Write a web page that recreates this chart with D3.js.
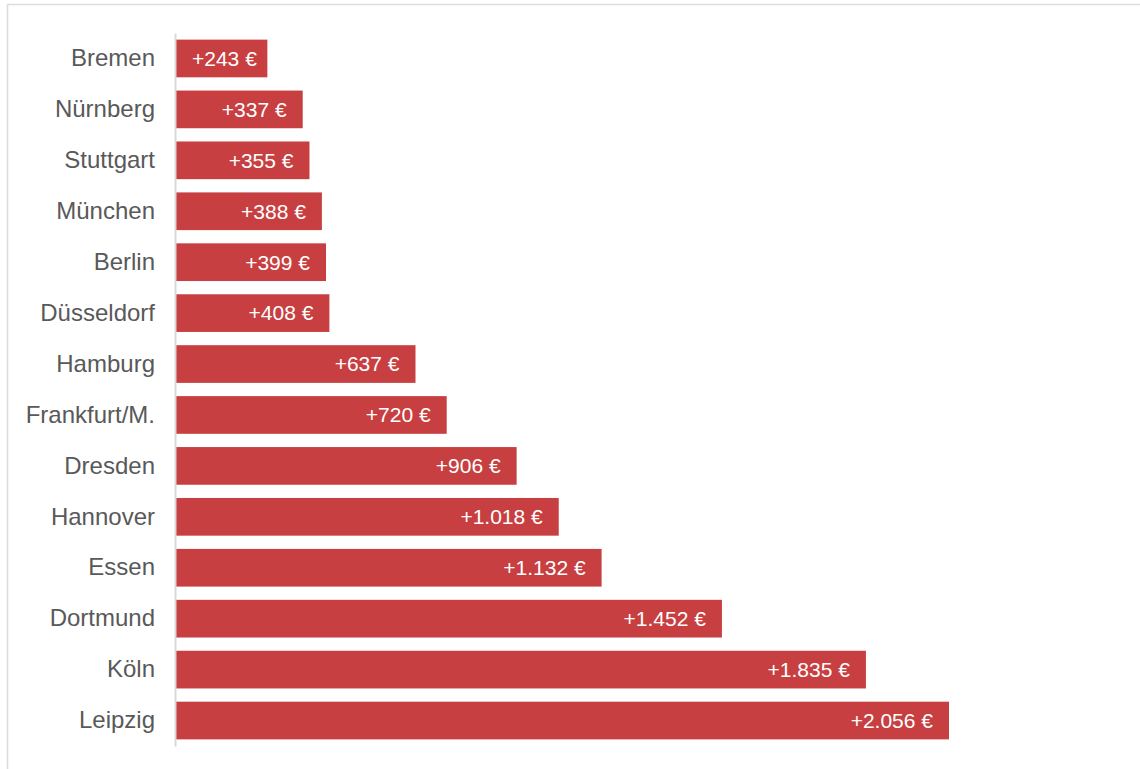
<!DOCTYPE html>
<html>
<head>
<meta charset="utf-8">
<script src="https://cdn.jsdelivr.net/npm/d3@7"></script>
<style>
  body { margin: 0; background: #fff; }
  svg { display: block; font-family: "Liberation Sans", Arial, sans-serif; }
</style>
</head>
<body>
<svg id="chart"></svg>
<script>
// data
var cities = ["Bremen", "Nürnberg", "Stuttgart", "München", "Berlin", "Düsseldorf", "Hamburg",
  "Frankfurt/M.", "Dresden", "Hannover", "Essen", "Dortmund", "Köln", "Leipzig"];
var values = [243, 337, 355, 388, 399, 408, 637, 720, 906, 1018, 1132, 1452, 1835, 2056];

var w = 1140, h = 769;
var barColor = "#c73f41";

var de = d3.formatLocale({ decimal: ",", thousands: ".", grouping: [3], currency: ["", " €"] });
var fmt = de.format(",d");

var svg = d3.select("#chart").attr("width", w).attr("height", h);

// light frame round the chart
svg.append("rect")
  .attr("x", 7.5).attr("y", 4.5)
  .attr("width", w + 20).attr("height", h + 20)
  .attr("fill", "none")
  .attr("stroke", "#dcdcdc")
  .attr("stroke-width", 1.5);

var y = d3.scaleBand()
  .domain(cities)
  .range([33, 746])
  .paddingInner(0.26)
  .paddingOuter(0.13);

var x = d3.scaleLinear()
  .domain([0, d3.max(values)])
  .range([176, 949]);

var data = cities.map(function(c, i) { return { city: c, value: values[i] }; });

svg.selectAll("rect.bar")
  .data(data)
  .enter()
  .append("rect")
  .attr("class", "bar")
  .attr("x", x(0))
  .attr("y", function(d) { return y(d.city); })
  .attr("width", function(d) { return x(d.value) - x(0); })
  .attr("height", y.bandwidth())
  .attr("fill", barColor);

// category axis
var yAxis = svg.append("g")
  .attr("transform", "translate(175,0)")
  .call(d3.axisLeft(y).tickSize(0).tickPadding(20));

yAxis.select(".domain")
  .attr("stroke", "#d9d9d9")
  .attr("stroke-width", 2);

yAxis.selectAll("text")
  .attr("font-size", "24px")
  .attr("fill", "#595959")
  .attr("font-family", "'Liberation Sans', Arial, sans-serif");

// value labels inside the bars, kept clear of the bar start
var pad = 16;
svg.selectAll("text.val")
  .data(data)
  .enter()
  .append("text")
  .attr("class", "val")
  .attr("y", function(d) { return y(d.city) + y.bandwidth() / 2; })
  .attr("dy", "0.35em")
  .attr("text-anchor", "end")
  .attr("font-size", "21px")
  .attr("fill", "#fff")
  .text(function(d) { return "+" + fmt(d.value) + " €"; })
  .attr("x", function(d) {
    var tw = this.getComputedTextLength();
    return Math.max(x(d.value) - pad, x(0) + pad + tw);
  });
</script>
</body>
</html>
